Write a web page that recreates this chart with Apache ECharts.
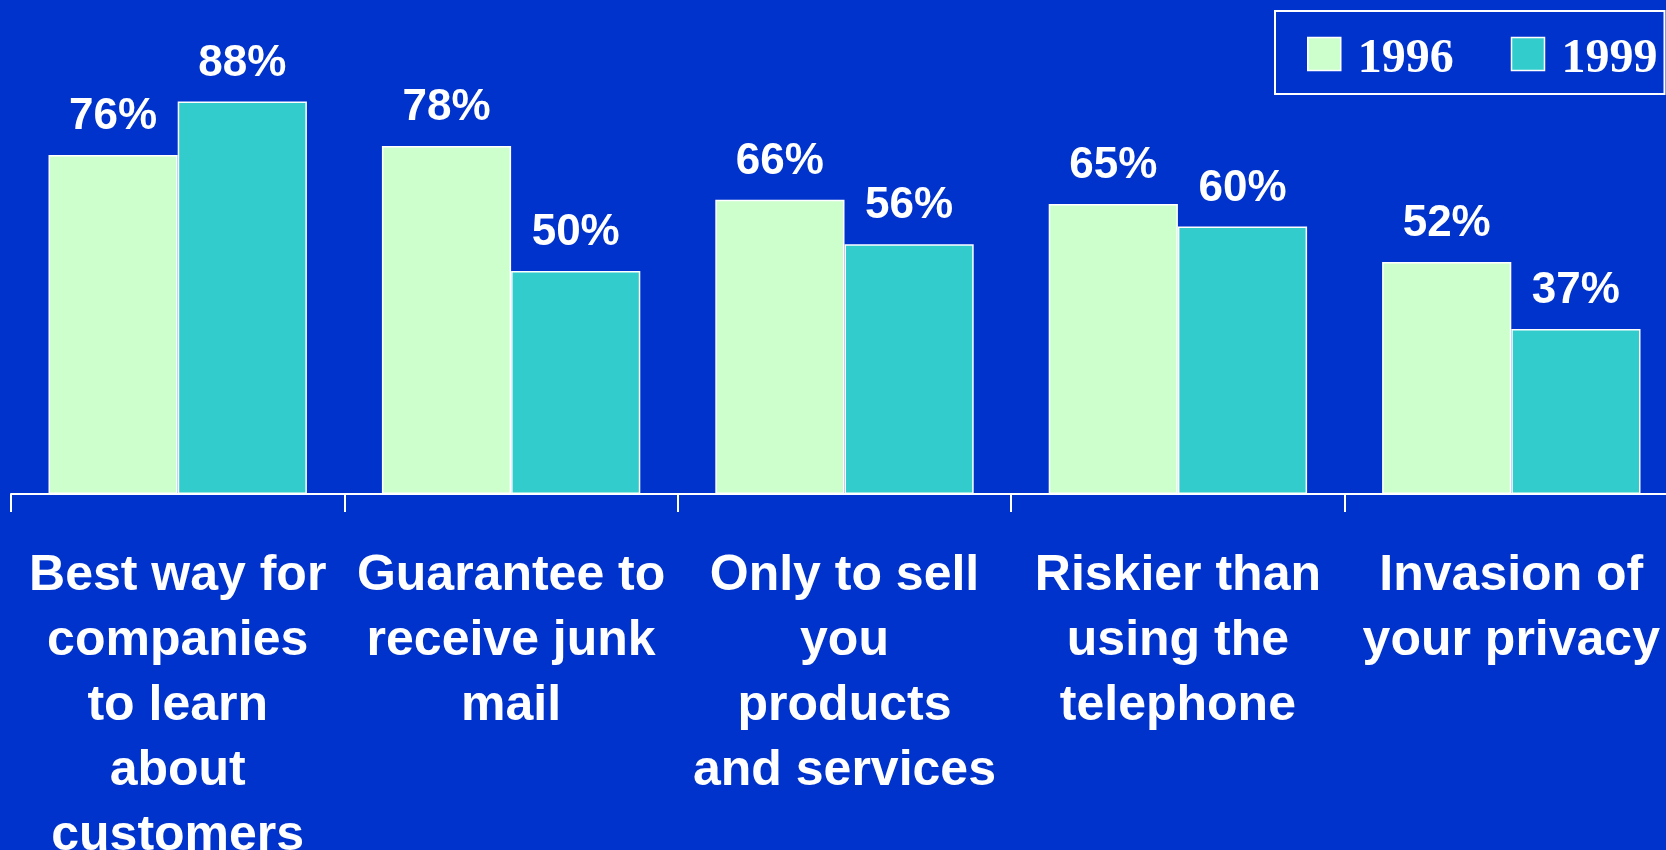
<!DOCTYPE html>
<html>
<head>
<meta charset="utf-8">
<script src="https://cdn.jsdelivr.net/npm/echarts@6/dist/echarts.min.js"></script>
<style>
  html, body { margin: 0; padding: 0; background: #0033cc; }
  #chart { width: 1666px; height: 850px; }
</style>
</head>
<body>
<div id="chart"></div>
<script>
const categories = [
  'Best way for\ncompanies\nto learn\nabout\ncustomers',
  'Guarantee to\nreceive junk\nmail',
  'Only to sell\nyou\nproducts\nand services',
  'Riskier than\nusing the\ntelephone',
  'Invasion of\nyour privacy',
];
const values1996 = [76, 78, 66, 65, 52];
const values1999 = [88, 50, 56, 60, 37];

const chart = echarts.init(document.getElementById('chart'));

const barLabel = {
  show: true,
  position: 'top',
  distance: 16,
  color: '#fff',
  fontSize: 44,
  fontWeight: 'bold',
  fontFamily: 'Liberation Sans, Arial, sans-serif',
  formatter: '{c}%',
};

const option = {
  backgroundColor: '#0033cc',
  animation: false,
  legend: {
    orient: 'horizontal',
    left: 1275,
    top: 11,
    width: 430,
    padding: [13, 7, 10, 32],
    borderColor: '#fff',
    borderWidth: 2,
    icon: 'rect',
    itemWidth: 33,
    itemHeight: 33,
    itemGap: 57,
    itemStyle: { borderColor: '#fff', borderWidth: 1.5 },
    formatter: (name) => '{t| ' + name + '}',
    textStyle: {
      color: '#fff',
      fontSize: 48,
      fontWeight: 'bold',
      fontFamily: 'Liberation Serif, Times New Roman, serif',
      rich: {
        t: {
          color: '#fff',
          fontSize: 48,
          fontWeight: 'bold',
          fontFamily: 'Liberation Serif, Times New Roman, serif',
          lineHeight: 48,
          padding: [12, 0, 0, 0],
        },
      },
    },
    data: ['1996', '1999'],
  },
  grid: {
    left: 11,
    top: 48,
    width: 1667,
    height: 446,
    outerBoundsMode: 'none',
    containLabel: false,
  },
  xAxis: {
    type: 'category',
    data: categories,
    axisLine: { lineStyle: { color: '#fff', width: 2 } },
    axisTick: { show: true, length: 18, lineStyle: { color: '#fff', width: 2 } },
    axisLabel: {
      interval: 0,
      margin: 50,
      color: '#fff',
      fontSize: 50,
      lineHeight: 65,
      fontWeight: 'bold',
      fontFamily: 'Liberation Sans, Arial, sans-serif',
      align: 'center',
    },
  },
  yAxis: {
    type: 'value',
    min: 0,
    max: 100,
    show: false,
    splitLine: { show: false },
  },
  series: [
    {
      name: '1996',
      type: 'bar',
      data: values1996,
      barGap: '0%',
      barCategoryGap: '22.5%',
      itemStyle: { color: '#ccffcc', borderColor: '#fff', borderWidth: 1.5 },
      label: barLabel,
    },
    {
      name: '1999',
      type: 'bar',
      data: values1999,
      itemStyle: { color: '#33cccc', borderColor: '#fff', borderWidth: 1.5 },
      label: barLabel,
    },
  ],
};

chart.setOption(option);
</script>
</body>
</html>
